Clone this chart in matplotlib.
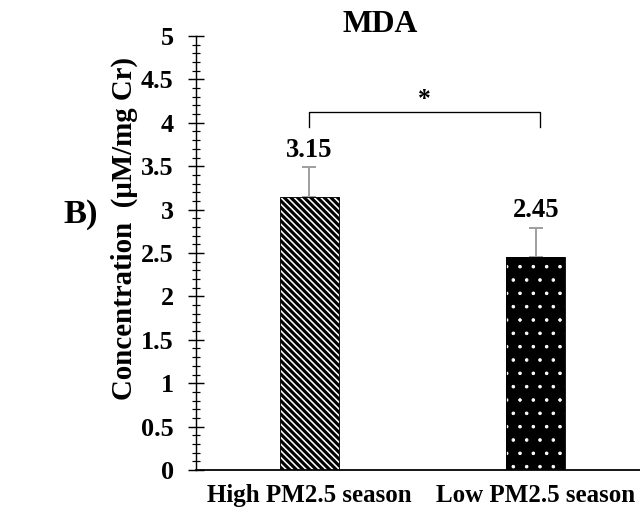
import matplotlib
matplotlib.use("Agg")
import matplotlib.pyplot as plt
from matplotlib.ticker import MultipleLocator

categories = ["High PM2.5 season", "Low PM2.5 season"]
values = [3.15, 2.45]
errors = [0.34, 0.34]
value_labels = ["3.15", "2.45"]
title = "MDA"
ylabel = "Concentration  (\u00b5M/mg Cr)"
panel = "B)"
sig_mark = "*"
yticks = [0, 0.5, 1, 1.5, 2, 2.5, 3, 3.5, 4, 4.5, 5]
ytick_labels = ["0", "0.5", "1", "1.5", "2", "2.5", "3", "3.5", "4", "4.5", "5"]

plt.rcParams['font.family'] = ['Liberation Serif', 'DejaVu Serif']
plt.rcParams['font.weight'] = 'bold'

fig = plt.figure(figsize=(8.0, 6.4875), dpi=80)
ax = fig.add_axes([196/640, 49/519, 1 - 196/640, (470-36)/519])

x = list(range(len(categories)))
w = 0.26

ax.errorbar(x, values, yerr=[[0]*len(errors), errors], fmt='none',
            ecolor='#a0a0a0', elinewidth=1.8, capsize=6, capthick=1.8, zorder=1)

plt.rcParams['hatch.linewidth'] = 2.8
ax.bar(x[0], values[0], width=w, facecolor='white', edgecolor='black',
       hatch='\\' * 4, linewidth=0.8, zorder=2)
plt.rcParams['hatch.linewidth'] = 0.8
ax.bar(x[1], values[1], width=w, facecolor='black', edgecolor='white',
       hatch='.', linewidth=0, zorder=2)
ax.bar(x[1], values[1], width=w, facecolor='none', edgecolor='black',
       linewidth=0.8, zorder=3)

for xi, v, e, lab in zip(x, values, errors, value_labels):
    ax.text(xi, v + e + 0.05, lab, ha='center', va='bottom',
            fontsize=24, fontweight='bold')

# significance bracket
yb, yt = 3.95, 4.12
ax.plot([x[0], x[0], x[1]+0.02, x[1]+0.02], [yb, yt, yt, yb], color='black', lw=1.2,
        zorder=4, clip_on=False)
ax.text((x[0] + x[1] + 0.02) / 2, 4.14, sig_mark, ha='center', va='bottom',
        fontsize=23, fontweight='bold')

ax.set_ylim(0, 5)
ax.set_xlim(-0.5, 1.46)
ax.yaxis.set_minor_locator(MultipleLocator(0.1))
ax.set_yticks(yticks)
ax.set_yticklabels(ytick_labels)
ax.set_xticks(x)
ax.set_xticklabels(categories)

ax.tick_params(axis='y', which='major', direction='inout', length=14, width=1.3,
               labelsize=23.5, pad=13)
ax.tick_params(axis='y', which='minor', direction='inout', length=8, width=1.1)
ax.tick_params(axis='x', which='both', length=0, labelsize=22.5, pad=13)
for lab in ax.get_xticklabels() + ax.get_yticklabels():
    lab.set_fontweight('bold')

for s in ['top', 'right']:
    ax.spines[s].set_visible(False)
ax.spines['left'].set_linewidth(1.3)
ax.spines['bottom'].set_linewidth(1.6)

fig.text(124/640, 1 - 228/519, ylabel, rotation=90, ha='center', va='center',
         fontsize=26, fontweight='bold')
fig.text(380/640, 1 - 24/519, title, ha='center', va='center', fontsize=28.5, fontweight='bold')
fig.text(81/640, 1 - 215/519, panel, ha='center', va='center', fontsize=31, fontweight='bold')

fig.savefig("out.png", dpi=80)
